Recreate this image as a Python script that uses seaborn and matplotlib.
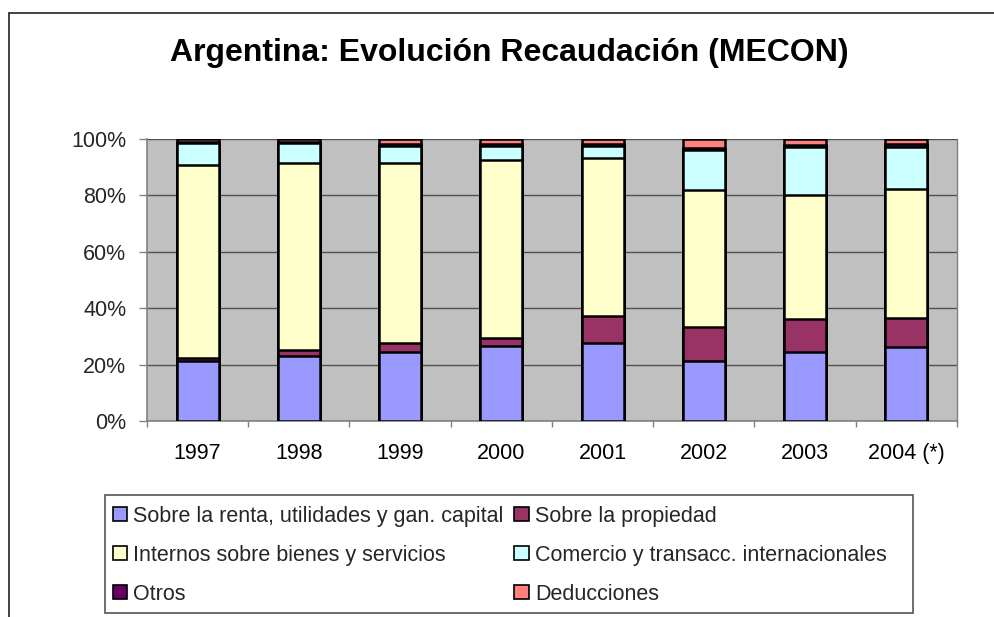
import numpy as np
import pandas as pd
import matplotlib
matplotlib.use("Agg")
import matplotlib.pyplot as plt
import seaborn as sns
from matplotlib.patches import Patch, Rectangle
from matplotlib.lines import Line2D
from matplotlib.ticker import FixedLocator

years = ["1997", "1998", "1999", "2000", "2001", "2002", "2003", "2004 (*)"]
renta = [21.1, 23.2, 24.6, 26.5, 27.5, 21.1, 24.6, 26.1]
propiedad = [1.2, 1.9, 2.9, 2.9, 9.9, 12.1, 11.4, 10.6]
internos = [68.5, 66.4, 64.0, 63.3, 56.0, 48.8, 44.1, 45.5]
comercio = [7.8, 7.1, 6.1, 4.9, 4.2, 14.2, 17.1, 15.0]
otros = [0.3, 0.3, 0.6, 0.6, 0.6, 0.5, 0.7, 1.1]
deducciones = [1.1, 1.1, 1.8, 1.8, 1.8, 3.3, 2.1, 1.7]

series_names = [
    "Sobre la renta, utilidades y gan. capital",
    "Sobre la propiedad",
    "Internos sobre bienes y servicios",
    "Comercio y transacc. internacionales",
    "Otros",
    "Deducciones",
]
series_vals = [renta, propiedad, internos, comercio, otros, deducciones]
colors = ["#9999FF", "#993366", "#FFFFCC", "#CCFFFF", "#660066", "#FF8080"]
title = "Argentina: Evolución Recaudación (MECON)"
ytick_vals = [0, 20, 40, 60, 80, 100]

sns.set_style("white")
plt.rcParams["font.family"] = ["Liberation Sans", "DejaVu Sans"]

W, H = 995, 617
fig = plt.figure(figsize=(W / 100, H / 100), dpi=100)
fig.patch.set_facecolor("white")

def fx(px):
    return px / W

def fy(py):
    return 1 - py / H

left, right, top, bottom = 147, 957, 139, 421
ax = fig.add_axes([fx(left), fy(bottom), fx(right - left), (bottom - top) / H])
ax.set_facecolor("#C0C0C0")

# normalise to percentages and stack
arr = np.array(series_vals, dtype=float)
arr = arr / arr.sum(axis=0) * 100
cum = np.cumsum(arr, axis=0)

for i in range(len(series_names) - 1, -1, -1):
    df = pd.DataFrame({"year": years, "value": cum[i]})
    sns.barplot(data=df, x="year", y="value", order=years, color=colors[i],
                saturation=1, width=0.415, edgecolor="black", linewidth=1.8,
                errorbar=None, ax=ax, zorder=3)

ax.set_xlim(-0.5, len(years) - 0.5)
ax.set_ylim(0, 100)
ax.set_yticks(ytick_vals)
ax.set_yticklabels([f"{v}%" for v in ytick_vals])
ax.yaxis.grid(True, color="#505050", linewidth=1.0, zorder=0)
ax.set_axisbelow(True)
ax.set_xlabel("")
ax.set_ylabel("")

ax.set_xticks(range(len(years)))
ax.set_xticklabels(years)
ax.xaxis.set_minor_locator(FixedLocator(np.arange(-0.5, len(years), 1.0)))
ax.tick_params(axis="x", which="major", length=0, pad=16, labelsize=15.5, colors="black")
ax.tick_params(axis="x", which="minor", length=4, width=1, color="#808080", bottom=True)
ax.tick_params(axis="y", which="major", length=6, width=1, color="#808080", pad=9,
               labelsize=15.5, left=True)

for s in ["left", "bottom"]:
    ax.spines[s].set_color("#808080")
    ax.spines[s].set_linewidth(1.2)
ax.spines["right"].set_color("#808080")
ax.spines["right"].set_linewidth(1.0)
ax.spines["top"].set_visible(False)

# title
fig.text(fx(509), fy(53), title, ha="center", va="center", fontsize=23,
         fontweight="bold", color="black")

# outer chart frame (extends beyond the image)
fig.add_artist(Line2D([fx(9), fx(9)], [fy(13), fy(620)], color="#333333", lw=1.3,
                      transform=fig.transFigure))
fig.add_artist(Line2D([fx(9), fx(1000)], [fy(13), fy(13)], color="#333333", lw=1.3,
                      transform=fig.transFigure))

# legend frame
fig.add_artist(Rectangle((fx(105), fy(613)), fx(913 - 105), (613 - 495) / H,
                         transform=fig.transFigure, fill=False,
                         edgecolor="#555555", lw=1.2))

# row-major legend order (matplotlib fills columns first)
order = [0, 2, 4, 1, 3, 5]
handles = [Patch(facecolor=colors[i], edgecolor="black", linewidth=1.2) for i in order]
labels = [series_names[i] for i in order]
fig.legend(handles, labels, ncol=2, frameon=False,
           loc="upper left", bbox_to_anchor=(fx(104), fy(497)),
           fontsize=15.5, handlelength=0.66, handleheight=0.66,
           handletextpad=0.3, columnspacing=0.5, labelspacing=0.84,
           borderpad=0.4, borderaxespad=0)

fig.savefig("out.png", dpi=100, facecolor="white")
